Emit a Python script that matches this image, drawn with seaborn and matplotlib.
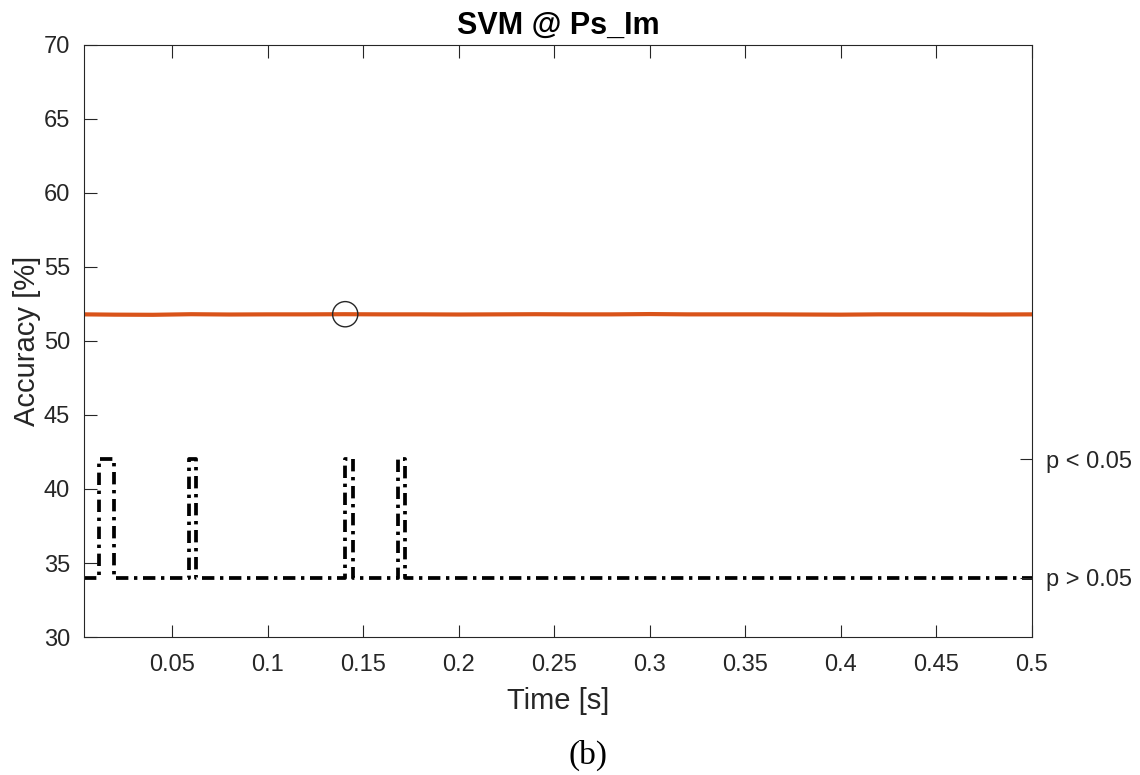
import numpy as np
import pandas as pd
import matplotlib
matplotlib.use("Agg")
import matplotlib.pyplot as plt
import seaborn as sns

# ---- data ----
acc_time = [0.0039, 0.02, 0.04, 0.06, 0.08, 0.10, 0.12, 0.14, 0.16, 0.18, 0.20,
            0.22, 0.24, 0.26, 0.28, 0.30, 0.32, 0.34, 0.36, 0.38, 0.40, 0.42,
            0.44, 0.46, 0.48, 0.50]
acc_value = [51.80, 51.78, 51.77, 51.81, 51.79, 51.80, 51.80, 51.81, 51.80, 51.80, 51.79,
             51.80, 51.81, 51.80, 51.80, 51.82, 51.80, 51.80, 51.80, 51.79, 51.78, 51.80,
             51.80, 51.80, 51.79, 51.80]
peak_time = [0.1406]
peak_value = [51.81]

sig_start = [0.0117, 0.0586, 0.1406, 0.1680]
sig_end = [0.0195, 0.0625, 0.1445, 0.1719]
t_min, t_max = 0.0039, 0.5
level_ns, level_sig = 34, 42
right_ticks = [42, 34]
right_labels = ["p < 0.05", "p > 0.05"]
x_ticks = [0.05, 0.1, 0.15, 0.2, 0.25, 0.3, 0.35, 0.4, 0.45, 0.5]
x_ticklabels = ["0.05", "0.1", "0.15", "0.2", "0.25", "0.3", "0.35", "0.4", "0.45", "0.5"]
y_ticks = [30, 35, 40, 45, 50, 55, 60, 65, 70]

# build step series for significance
px, py = [t_min], [level_ns]
for s, e in zip(sig_start, sig_end):
    px += [s, s, e, e]
    py += [level_ns, level_sig, level_sig, level_ns]
px.append(t_max)
py.append(level_ns)
sig_df = pd.DataFrame({"t": px, "p": py})
acc_df = pd.DataFrame({"t": acc_time, "acc": acc_value})
peak_df = pd.DataFrame({"t": peak_time, "acc": peak_value})

sns.set_theme(style="white")
plt.rcParams["font.family"] = ["Liberation Sans", "DejaVu Sans"]
dark = "#262626"

fig = plt.figure(figsize=(11.4, 7.75), dpi=100)
ax = fig.add_axes([84 / 1140, 1 - 637 / 775, (1032 - 84) / 1140, (637 - 45) / 775])

sns.lineplot(data=sig_df, x="t", y="p", ax=ax, estimator=None, sort=False,
             color="black", linewidth=2.7, dashes=False)
ax.lines[-1].set_dashes([3.3, 1.5, 0.9, 1.5])
sns.lineplot(data=acc_df, x="t", y="acc", ax=ax, estimator=None,
             color="#D95319", linewidth=3.0)
sns.scatterplot(data=peak_df, x="t", y="acc", ax=ax, s=330, facecolor="none",
                edgecolor=dark, linewidth=1.0, zorder=5)

ax.set_xlim(t_min, t_max)
ax.set_ylim(30, 70)
ax.set_xticks(x_ticks)
ax.set_xticklabels(x_ticklabels)
ax.set_yticks(y_ticks)
ax.tick_params(axis="both", direction="in", length=9, width=0.8, colors=dark,
               labelsize=17, top=True, bottom=True, left=True, right=False)
ax.tick_params(axis="x", pad=12)
ax.tick_params(axis="y", pad=10)
for sp in ax.spines.values():
    sp.set_visible(True)
    sp.set_color(dark)
    sp.set_linewidth(0.8)
ax.set_xlabel("Time [s]", fontsize=21, color=dark, labelpad=8)
ax.set_ylabel("Accuracy [%]", fontsize=21, color=dark, labelpad=2)
ax.set_title("SVM @ Ps_Im", fontsize=22, fontweight="bold", color="black", pad=8)

ax2 = ax.twinx()
ax2.set_ylim(30, 70)
ax2.set_yticks(right_ticks)
ax2.set_yticklabels(right_labels)
ax2.tick_params(axis="y", direction="in", length=9, width=0.8, colors=dark,
                labelsize=17, pad=10)
for sp in ax2.spines.values():
    sp.set_visible(False)

fig.text(588 / 1140, 1 - 755 / 775, "(b)", ha="center", va="center",
         fontsize=24, family=["Liberation Serif", "DejaVu Serif"], color="black")

fig.savefig("out.png", dpi=100)
